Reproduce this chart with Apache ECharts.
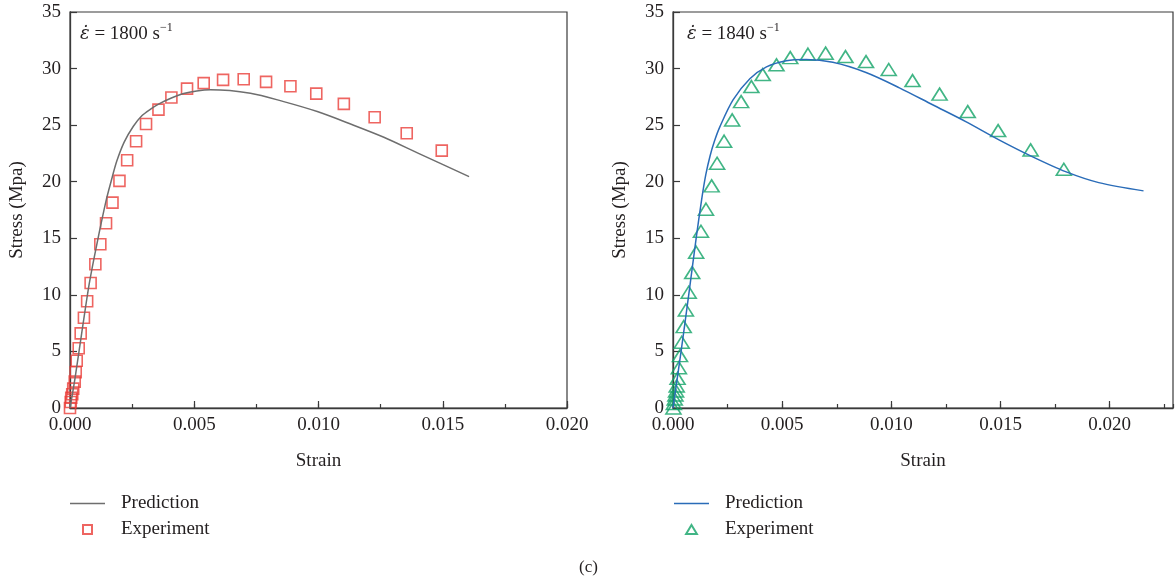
<!DOCTYPE html>
<html>
<head>
<meta charset="utf-8">
<script src="https://cdn.jsdelivr.net/npm/echarts@6/dist/echarts.min.js"></script>
<style>
html,body{margin:0;padding:0;background:#fff;}
#chart{width:1176px;height:580px;}
</style>
</head>
<body>
<div id="chart"></div>
<script>
// ---- data ----
const leftExpStrain = [0,0.00003,0.00005,0.00009,0.00013,0.00019,0.00023,0.00027,0.00035,0.00043,0.00056,0.00069,0.00083,0.00102,0.00122,0.00145,0.00171,0.00199,0.0023,0.00266,0.00306,0.00356,0.00408,0.00471,0.00538,0.00616,0.00699,0.00789,0.00887,0.00991,0.01102,0.01226,0.01355,0.01496];
const leftExpStress = [0,0.53,0.91,1.21,1.71,2.33,3.16,4.18,5.28,6.6,7.98,9.43,11.05,12.7,14.47,16.33,18.15,20.07,21.9,23.58,25.1,26.37,27.44,28.23,28.71,29.0,29.05,28.82,28.44,27.79,26.88,25.7,24.29,22.75];
const leftPredStrain = [0,0.0002,0.00047,0.00078,0.00108,0.00145,0.00165,0.00188,0.00218,0.00255,0.0029,0.00323,0.0036,0.00408,0.00457,0.0051,0.00565,0.00726,0.0086,0.00995,0.01129,0.01263,0.01398,0.01606];
const leftPredStress = [0,2.6,6.6,11.05,14.47,18.3,20.0,21.8,23.5,24.9,25.85,26.4,26.9,27.4,27.8,28.02,28.12,27.82,27.08,26.2,25.1,23.93,22.55,20.45];

const rightExpStrain = [0.00002,0.00004,0.00008,0.00011,0.00014,0.00017,0.00021,0.00027,0.00032,0.0004,0.00049,0.00059,0.00072,0.00088,0.00106,0.00128,0.00151,0.00177,0.00202,0.00234,0.00271,0.00312,0.00359,0.00411,0.00474,0.00537,0.00618,0.00699,0.0079,0.00884,0.00988,0.01097,0.01221,0.0135,0.01489,0.01638,0.0179];
const rightExpStress = [0,0.4,0.8,1.15,1.5,1.95,2.62,3.56,4.63,5.81,7.19,8.66,10.23,11.97,13.77,15.62,17.57,19.63,21.63,23.58,25.46,27.08,28.41,29.47,30.33,30.97,31.27,31.36,31.06,30.62,29.92,28.94,27.74,26.2,24.52,22.81,21.1];
const rightPredStrain = [0,0.00037,0.00072,0.00106,0.00131,0.0015,0.0017,0.0019,0.00215,0.00275,0.00352,0.00428,0.00519,0.0061,0.00732,0.00884,0.01037,0.01189,0.01341,0.01493,0.01645,0.01798,0.0195,0.02155];
const rightPredStress = [0,5,10,15,18.4,20.6,22.3,23.6,24.87,27.23,29.1,30.15,30.7,30.8,30.55,29.65,28.3,26.8,25.31,23.7,22.22,20.89,19.92,19.19];

const xTickLabels = ['0.000','0.005','0.010','0.015','0.020'];
const seriesNames = ['Prediction','Experiment'];
const rateLabels = ['1800','1840'];
const panelLabel = '(c)';

const zip = (a,b) => a.map((v,i)=>[v,b[i]]);

const FONT = '"Liberation Serif","DejaVu Serif",serif';
const TXT = '#231f20';
const AX = '#3a3a3a';
const C_GRAY = '#6e6e6e', C_RED = '#ea3f3a', C_BLUE = '#2a6cb8', C_GREEN = '#12a366';

const ICON_LINE = 'path://M0,0L35,0L35,1.5L0,1.5Z';
const ICON_SQ = 'path://M0,0L10,0L10,10L0,10Z';
const ICON_TRI = 'path://M6,0L12,10L0,10Z';

function majorX(grid, max){
  return {
    type:'value', gridIndex:grid, min:0, max:max, interval:0.005,
    name:'Strain', nameLocation:'middle', nameGap:44,
    nameTextStyle:{fontFamily:FONT,fontSize:19,color:TXT},
    axisLine:{show:true,onZero:false,lineStyle:{color:AX,width:1.3}},
    axisTick:{show:true,inside:true,length:7,lineStyle:{color:AX,width:1.2}},
    axisLabel:{fontFamily:FONT,fontSize:19,color:TXT,margin:8,showMaxLabel: grid===0,
      formatter:v=>{const i=Math.round(v/0.005); return Math.abs(v-i*0.005)<1e-9 ? xTickLabels[i] : '';}},
    splitLine:{show:false}
  };
}
function minorX(grid, max){
  return {
    type:'value', gridIndex:grid, min:0, max:max, interval:0.0025, position:'bottom',
    axisLine:{show:false}, axisLabel:{show:false}, splitLine:{show:false},
    axisTick:{show:true,inside:true,length:4,lineStyle:{color:AX,width:1.2}}
  };
}
function yAx(grid){
  return {
    type:'value', gridIndex:grid, min:0, max:35, interval:5,
    name:'Stress (Mpa)', nameLocation:'middle', nameGap:43, nameRotate:90,
    nameTextStyle:{fontFamily:FONT,fontSize:19,color:TXT},
    axisLine:{show:true,onZero:false,lineStyle:{color:AX,width:1.3}},
    axisTick:{show:true,inside:true,length:7,lineStyle:{color:AX,width:1.2}},
    axisLabel:{fontFamily:FONT,fontSize:19,color:TXT,margin:9},
    splitLine:{show:false}
  };
}
function legendFor(left, suffix, expIcon){
  return {
    left:left, top:489, orient:'vertical', itemWidth:35, itemHeight:9, itemGap:7,
    textStyle:{fontFamily:FONT,fontSize:19,color:TXT,padding:[0,0,0,11]},
    data:[{name:seriesNames[0]+suffix, icon:ICON_LINE},{name:seriesNames[1]+suffix, icon:expIcon}],
    formatter:n=>n.split('-')[0]
  };
}
function rateText(left, rate){
  return {type:'text', left:left, top:22, z:100, style:{
    text:'{i|ε̇} = '+rate+' s{s|−1}', fontFamily:FONT, fontSize:19, fill:TXT,
    rich:{i:{fontFamily:'"DejaVu Serif",serif',fontStyle:'italic',fontSize:18,lineHeight:24},
          s:{fontFamily:FONT,fontSize:12,verticalAlign:'top',lineHeight:24}}
  }};
}

const chart = echarts.init(document.getElementById('chart'), null, {renderer:'canvas'});
const option = {
  backgroundColor:'#fff',
  animation:false,
  grid:[
    {left:70, right:609, top:12, bottom:172, show:true, borderColor:AX, borderWidth:1.2, backgroundColor:'transparent'},
    {left:673, right:3, top:12, bottom:172, show:true, borderColor:AX, borderWidth:1.2, backgroundColor:'transparent'}
  ],
  xAxis:[majorX(0,0.02), minorX(0,0.02), majorX(1,0.0229), minorX(1,0.0229)],
  yAxis:[yAx(0), yAx(1)],
  legend:[legendFor(65,'-L',ICON_SQ), legendFor(669,'-R',ICON_TRI)],
  graphic:[
    rateText(80, rateLabels[0]),
    rateText(687, rateLabels[1]),
    {type:'text', left:579, top:559, style:{text:panelLabel, fontFamily:FONT, fontSize:17, fill:TXT}}
  ],
  series:[
    {name:'Prediction-L', type:'line', xAxisIndex:0, yAxisIndex:0, data:zip(leftPredStrain,leftPredStress),
      smooth:0.3, showSymbol:false, symbol:'none', lineStyle:{color:C_GRAY,width:1.5}, itemStyle:{color:C_GRAY}, z:3},
    {name:'Experiment-L', type:'scatter', xAxisIndex:0, yAxisIndex:0, data:zip(leftExpStrain,leftExpStress),
      symbol:'rect', symbolSize:11, itemStyle:{color:'rgba(255,255,255,0)',borderColor:C_RED,borderWidth:1.6}, z:2},
    {name:'Prediction-R', type:'line', xAxisIndex:2, yAxisIndex:1, data:zip(rightPredStrain,rightPredStress),
      smooth:0.3, showSymbol:false, symbol:'none', lineStyle:{color:C_BLUE,width:1.5}, itemStyle:{color:C_BLUE}, z:3},
    {name:'Experiment-R', type:'scatter', xAxisIndex:2, yAxisIndex:1, data:zip(rightExpStrain,rightExpStress),
      symbol:'triangle', symbolSize:[15,12], itemStyle:{color:'rgba(255,255,255,0)',borderColor:C_GREEN,borderWidth:1.6}, z:2}
  ]
};
chart.setOption(option);
</script>
</body>
</html>
